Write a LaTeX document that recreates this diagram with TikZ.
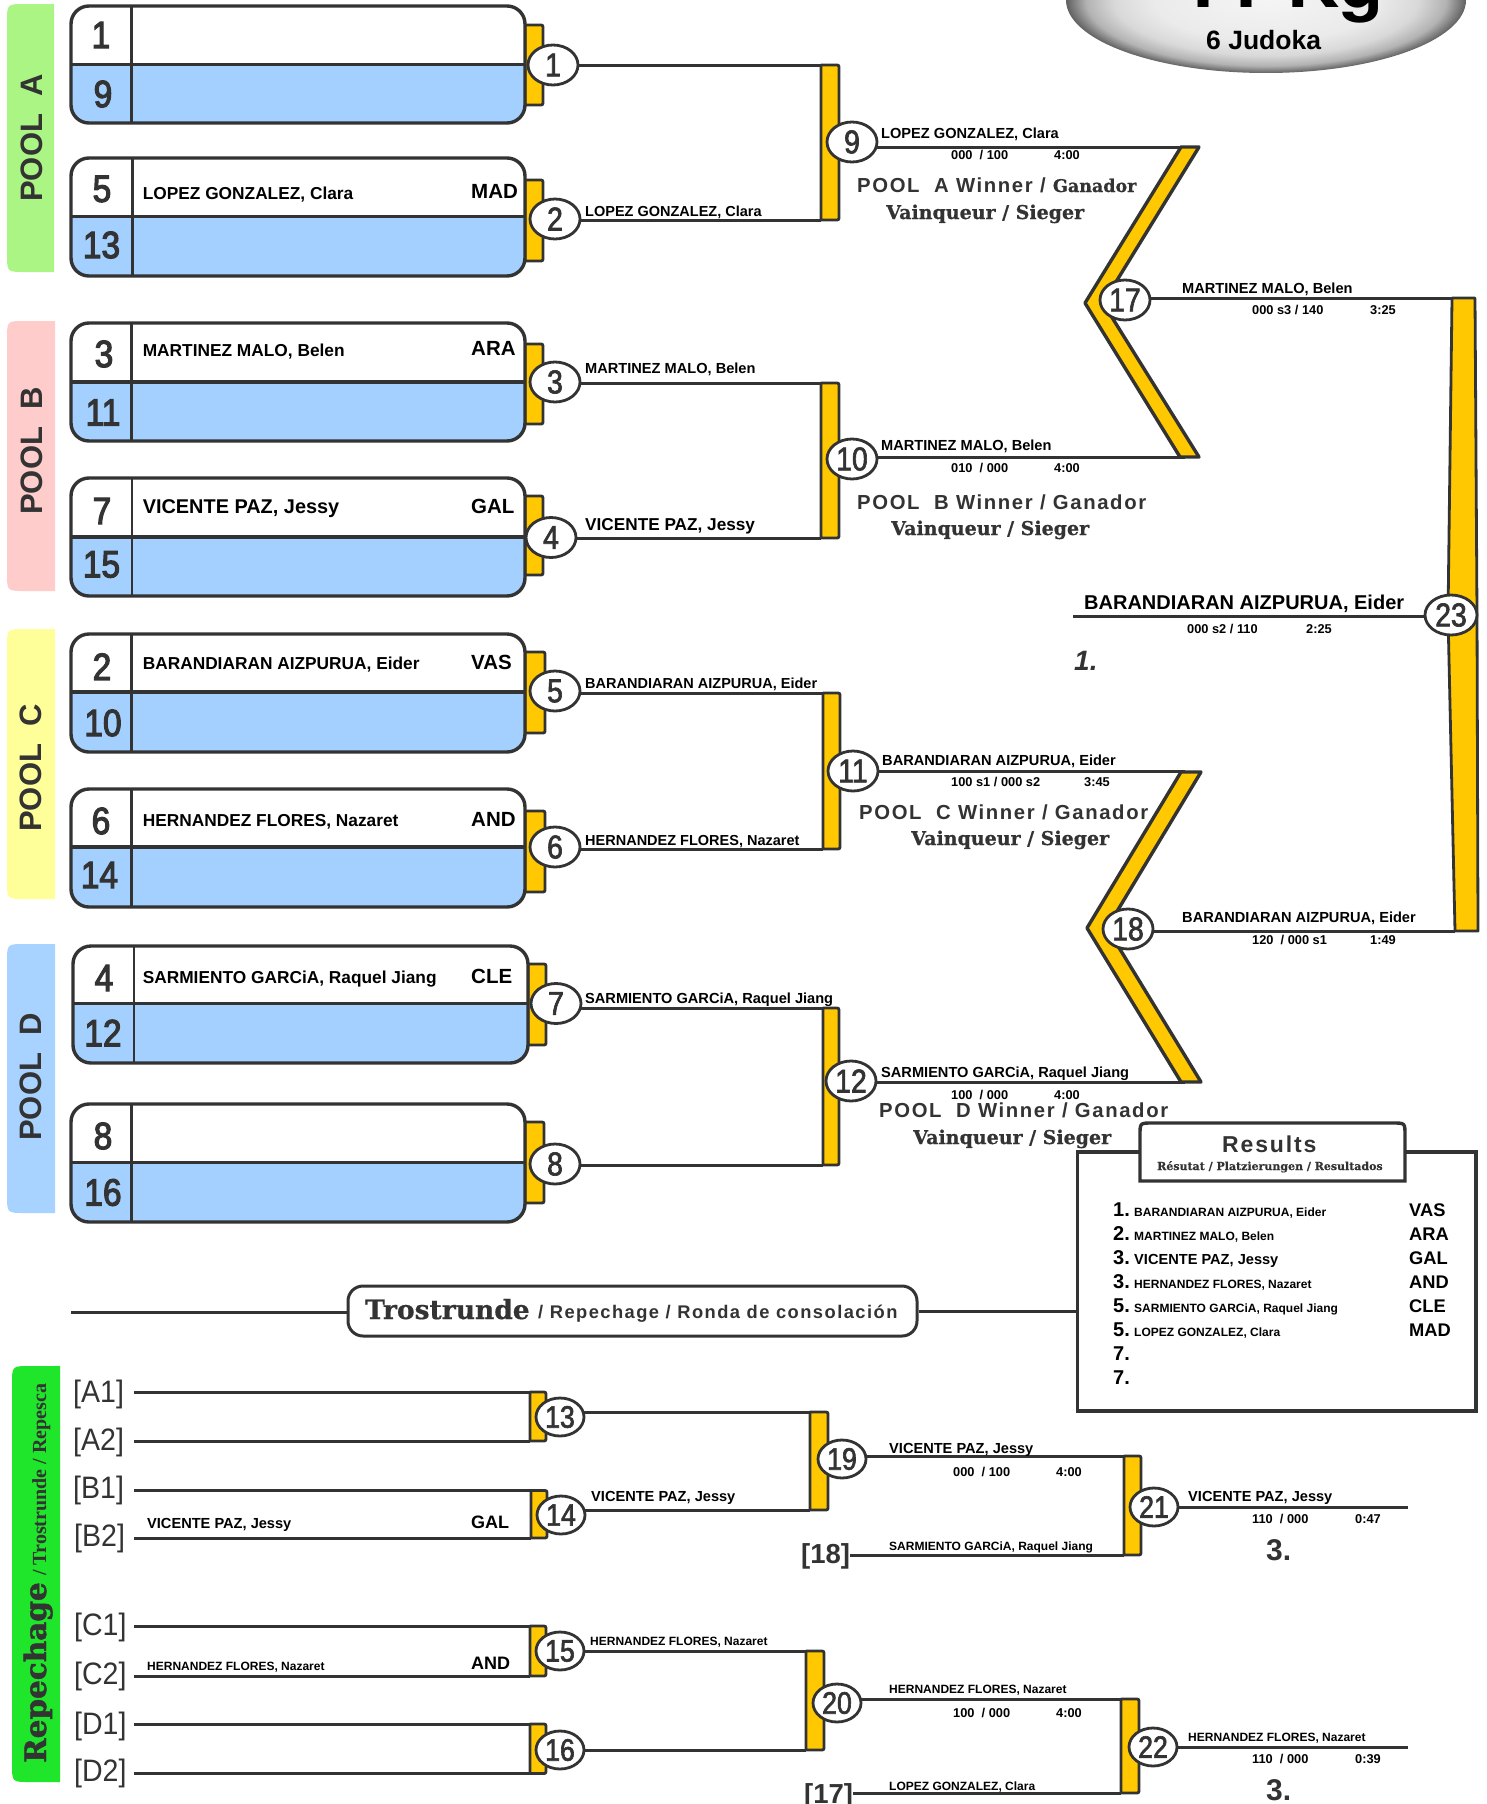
\documentclass[tikz,border=0pt]{standalone}
\usepackage{fontspec}
\setmainfont{Liberation Sans}
\newfontfamily\spsans[LetterSpace=8]{Liberation Sans}
\newfontfamily\fatserif[FakeBold=0.6]{DejaVu Serif}
\newfontfamily\fatterserif[FakeBold=1.6]{DejaVu Serif}
\newfontfamily\romserif{Liberation Serif}
\newfontfamily\titlefont{TeX Gyre Heros}
\newfontfamily\seedfont[FakeBold=3,FakeStretch=0.88]{Liberation Sans}
\newfontfamily\ovalfont[FakeBold=2,FakeStretch=0.86]{Liberation Sans}
\newfontfamily\tallfont[FakeStretch=0.92]{Liberation Sans}
\usetikzlibrary{shapes.geometric,backgrounds}
\definecolor{ink}{HTML}{333333}
\definecolor{gold}{HTML}{FFC800}
\definecolor{seedblue}{HTML}{A3D0FF}
\definecolor{pA}{HTML}{ABF584}
\definecolor{pB}{HTML}{FFCCCC}
\definecolor{pC}{HTML}{FFFF99}
\definecolor{pD}{HTML}{A8D2FF}
\definecolor{pR}{HTML}{1FE62A}
\pgfdeclareradialshading{ovalshade}{\pgfpoint{0bp}{0bp}}{color(0bp)=(white!96!black);color(14bp)=(white!92!black);color(19bp)=(white!85!black);color(22.5bp)=(white!70!black);color(25bp)=(white!38!black);color(50bp)=(white!38!black)}
\newcounter{tc}
\newcommand\tlab[5][]{\stepcounter{tc}\node[txt,#1] (t\arabic{tc}) at (#2,#3) {\fontsize{#4}{#4}\selectfont #5};}
\newcommand\mch[4][]{\node[mc,#1] (m#2) at (#3,#4) {#2};}
\newcommand\bkt[5]{%
  \pgfmathsetmacro\rA{#3-4}\pgfmathsetmacro\tA{#4+4}\pgfmathsetmacro\tB{#5-4}%
  \coordinate (#1t) at (#2,#4);\coordinate (#1b) at (#2,#5);%
  \filldraw[bk] (#2,#4) -- (\rA,#4) .. controls (#3,#4) .. (#3,\tA) -- (#3,\tB) .. controls (#3,#5) .. (\rA,#5) -- (#2,#5) -- cycle;}
\newcommand\plab[5]{%
  \pgfmathsetmacro\rA{#1+18}\pgfmathsetmacro\tA{#3+18}\pgfmathsetmacro\tB{#4-18}%
  \fill[#5] (#2,#3) -- (\rA,#3) .. controls (#1,#3) .. (#1,\tA) -- (#1,\tB) .. controls (#1,#4) .. (\rA,#4) -- (#2,#4) -- cycle;}
\newcommand\poolbox[6]{%
  \begin{scope}\clip (#1,#3) rectangle (#2,#5);\fill[white,rounded corners=18pt] (#1,#3) rectangle (#2,#5);\end{scope}
  \begin{scope}\clip (#1,#4) rectangle (#2,#5);\fill[seedblue,rounded corners=18pt] (#1,#3) rectangle (#2,#5);\end{scope}
  \draw[boxln] (#1,#4) -- (#2,#4);\draw[boxln,line width=2.6pt] (#6,#3) -- (#6,#5);
  \draw[boxln,rounded corners=18pt] (#1,#3) rectangle (#2,#5);}
\newcommand\seed[3]{\node[seednode] (s#1) at (#2,#3) {#1};}
\tikzset{
  txt/.style={anchor=base west,inner sep=0pt,text=black,font=\bfseries},
  mc/.style={ellipse,draw=ink,line width=2.8pt,fill=white,minimum width=50pt,minimum height=40pt,inner sep=0pt,text=ink,font=\ovalfont\fontsize{33}{33}\selectfont},
  rc/.style={mc,minimum width=48pt,minimum height=38pt,font=\ovalfont\fontsize{31}{31}\selectfont},
  bk/.style={draw=ink,fill=gold,line width=2.8pt,line join=round},
  ln/.style={draw=ink,line width=3pt},
  boxln/.style={draw=ink,line width=3.4pt},
  seednode/.style={inner sep=0pt,text=ink,font=\seedfont\fontsize{38}{38}\selectfont},
  poolt/.style={rotate=90,anchor=center,inner sep=0pt,text=ink,font=\bfseries\fontsize{31}{31}\selectfont},
  gr/.style={text=ink},
}
\begin{document}
\begin{tikzpicture}[x=1pt,y=-1pt]
\useasboundingbox (0,0) rectangle (1487,1804);
\begin{pgfonlayer}{background}
\fill[white] (0,0) rectangle (1487,1804);
\end{pgfonlayer}
% title oval
\begin{scope}
\clip (0,0) rectangle (1487,1804);
\shade[shading=ovalshade] (1266,0) ellipse [x radius=200pt,y radius=73pt];
\tlab{1179}{8}{78}{\titlefont 11 {\fontsize{72}{72}\selectfont Kg}}
\end{scope}
\tlab{1206}{49}{26.5}{6 Judoka}
% pool labels
\plab{7}{54}{4}{272}{pA}
\plab{7}{55}{321}{591}{pB}
\plab{7}{55}{629}{899}{pC}
\plab{7}{55}{944}{1213}{pD}
\node[poolt] (pa) at (31.5,138) {POOL\ \ A};
\node[poolt] (pb) at (31.5,451) {POOL\ \ B};
\node[poolt] (pc) at (31,768) {POOL\ \ C};
\node[poolt] (pd) at (31,1077) {POOL\ \ D};
% tabs
\bkt{a1}{525}{543}{25}{105}
\bkt{a2}{525}{543}{180}{261}
\bkt{a3}{525}{543}{344}{424}
\bkt{a4}{525}{543}{496}{575}
\bkt{a5}{525}{545}{652}{733}
\bkt{a6}{525}{545}{811}{892}
\bkt{a7}{528}{546}{964}{1045}
\bkt{a8}{525}{544}{1122}{1203}
% boxes
\poolbox{71}{525}{6}{64.3}{123}{131.5}
\poolbox{71}{525}{158}{216.6}{276}{132.5}
\poolbox{71}{525}{323}{382}{441}{131.5}
\poolbox{71}{525}{478}{537}{596}{132}
\poolbox{71}{525}{634}{692}{752}{131.5}
\poolbox{71}{525}{789}{847}{907}{131.5}
\poolbox{73}{528}{946}{1003.5}{1063}{134}
\poolbox{71}{525}{1104}{1162.5}{1222}{131.5}
\seed{1}{101}{35}\seed{9}{103}{94}
\seed{5}{102}{189}\seed{13}{101.5}{245}
\seed{3}{104}{354}\seed{11}{103}{412.5}
\seed{7}{102}{511}\seed{15}{101.5}{564.5}
\seed{2}{102}{666.7}\seed{10}{103}{723}
\seed{6}{101}{821}\seed{14}{99.5}{875}
\seed{4}{104}{978}\seed{12}{103}{1033}
\seed{8}{103}{1136}\seed{16}{103}{1192.5}
% names in boxes
\tlab{142.6}{199}{17.3}{LOPEZ GONZALEZ, Clara}
\tlab{471}{198}{20.5}{MAD}
\tlab{142.6}{356}{17.3}{MARTINEZ MALO, Belen}
\tlab{471}{355}{20.5}{ARA}
\tlab{142.6}{513}{19.9}{VICENTE PAZ, Jessy}
\tlab{471}{513}{20.5}{GAL}
\tlab{142.6}{669.4}{17.3}{BARANDIARAN AIZPURUA, Eider}
\tlab{471}{669}{20.5}{VAS}
\tlab{142.6}{826}{17.3}{HERNANDEZ FLORES, Nazaret}
\tlab{471}{826}{20.5}{AND}
\tlab{142.6}{983}{17.3}{SARMIENTO GARCiA, Raquel Jiang}
\tlab{471}{983}{20.5}{CLE}
% round 2 brackets
\bkt{b9}{821}{839}{65}{220}
\bkt{b10}{821}{839}{383}{538}
\bkt{b11}{823}{840}{693}{849}
\bkt{b12}{823}{839}{1008}{1165}
% V shapes
\filldraw[bk,line width=3.4pt] (1181,147) -- (1199,147) -- (1103,303) -- (1199,457) -- (1180,457) -- (1085,303) -- cycle;
\coordinate (v17t) at (1185,147);\coordinate (v17b) at (1185,457.5);
\filldraw[bk,line width=3.4pt] (1181,772) -- (1201,772) -- (1107,928) -- (1201,1082) -- (1181,1082) -- (1087,928) -- cycle;
\coordinate (v18t) at (1185,771);\coordinate (v18b) at (1185,1082);
% final bar
\filldraw[bk] (1452,298) -- (1475,298) -- (1477,615) -- (1478,931) -- (1455,931) -- (1448,615) -- cycle;
\coordinate (b23t) at (1452,298);\coordinate (b23b) at (1455,931);
\coordinate (f1) at (1073,616);
% match ovals
\mch{1}{553}{65}\mch{2}{555}{219}\mch{3}{555}{382}\mch{4}{551}{537.5}
\mch{5}{555}{691}\mch{6}{555}{847}\mch{7}{556}{1003.5}\mch{8}{555}{1164}
\mch{9}{852}{142}\mch{10}{852}{459}\mch{11}{853}{771}\mch{12}{851}{1081}
\mch{17}{1125}{300}\mch{18}{1128}{929}
\mch[minimum width=52pt]{23}{1451}{615}
% outgoing names
\tlab{585}{216}{14.5}{LOPEZ GONZALEZ, Clara}
\tlab{585}{373}{14.6}{MARTINEZ MALO, Belen}
\tlab{585}{530}{17.2}{VICENTE PAZ, Jessy}
\tlab{585}{688}{14.5}{BARANDIARAN AIZPURUA, Eider}
\tlab{585}{845}{14.5}{HERNANDEZ FLORES, Nazaret}
\tlab{585}{1003.5}{14.6}{SARMIENTO GARCiA, Raquel Jiang}
% round 3 texts
\tlab{881}{138}{14.6}{LOPEZ GONZALEZ, Clara}
\tlab{951}{159}{12.8}{000\ \ / 100}\tlab{1054}{159}{12.8}{4:00}
\tlab[gr]{857}{192}{20.3}{\spsans POOL\ \ A Winner / {\fatserif\fontsize{17.5}{17.5}\selectfont Ganador}}
\tlab[gr]{886}{219}{19}{\fatserif Vainqueur\ / Sieger}
\tlab{881}{450}{14.6}{MARTINEZ MALO, Belen}
\tlab{951}{472}{12.8}{010\ \ / 000}\tlab{1054}{472}{12.8}{4:00}
\tlab[gr]{857}{509}{20.3}{\spsans POOL\ \ B Winner / Ganador}
\tlab[gr]{891}{535}{19}{\fatserif Vainqueur\ / Sieger}
\tlab{882}{765}{14.6}{BARANDIARAN AIZPURUA, Eider}
\tlab{951}{786}{12.8}{100 s1 / 000 s2}\tlab{1084}{786}{12.8}{3:45}
\tlab[gr]{859}{819}{20.3}{\spsans POOL\ \ C Winner / Ganador}
\tlab[gr]{911}{845}{19}{\fatserif Vainqueur\ / Sieger}
\tlab{881}{1077}{14.6}{SARMIENTO GARCiA, Raquel Jiang}
\tlab{951}{1099}{12.8}{100\ \ / 000}\tlab{1054}{1099}{12.8}{4:00}
\tlab[gr]{879}{1117}{20.3}{\spsans POOL\ \ D Winner / Ganador}
\tlab[gr]{913}{1144}{19}{\fatserif Vainqueur\ / Sieger}
\tlab{1182}{293}{14.6}{MARTINEZ MALO, Belen}
\tlab{1252}{314}{12.8}{000 s3 / 140}\tlab{1370}{314}{12.8}{3:25}
\tlab{1182}{922}{14.6}{BARANDIARAN AIZPURUA, Eider}
\tlab{1252}{944}{12.8}{120\ \ / 000 s1}\tlab{1370}{944}{12.8}{1:49}
\tlab{1084}{609}{20}{BARANDIARAN AIZPURUA, Eider}
\tlab{1187}{633}{12.8}{000 s2 / 110}\tlab{1306}{633}{12.8}{2:25}
\tlab[gr]{1074}{670}{28}{\itshape 1.}
% Trostrunde band
\node[draw=ink,line width=3pt,fill=white,rounded corners=15pt,minimum width=569pt,minimum height=50pt,inner sep=0pt] (tro) at (632.5,1311) {};
\tlab[gr]{365}{1319}{26.5}{\fatserif Trostrunde}
\tlab[gr]{538}{1318}{18.3}{\spsans / Repechage / Ronda de consolación}
% Results
\node[draw=ink,line width=3.6pt,fill=white,minimum width=398.5pt,minimum height=259pt,inner sep=0pt] (res) at (1276.75,1281.5) {};
\filldraw[draw=ink,line width=3.4pt,fill=white] (1140,1181) -- (1140,1135) .. controls (1140,1123) .. (1152,1123) -- (1393,1123) .. controls (1405,1123) .. (1405,1135) -- (1405,1181) -- cycle;
\tlab[gr]{1222}{1152}{23}{\spsans Results}
\tlab[gr]{1157}{1170}{11}{\fatserif Résutat / Platzierungen / Resultados}
\tlab{1113}{1216}{20}{1.}\tlab{1134}{1216}{12}{BARANDIARAN AIZPURUA, Eider}\tlab{1409}{1216}{18.3}{VAS}
\tlab{1113}{1240}{20}{2.}\tlab{1134}{1240}{12}{MARTINEZ MALO, Belen}\tlab{1409}{1240}{18.3}{ARA}
\tlab{1113}{1264}{20}{3.}\tlab{1134}{1264}{14.6}{VICENTE PAZ, Jessy}\tlab{1409}{1264}{18.3}{GAL}
\tlab{1113}{1288}{20}{3.}\tlab{1134}{1288}{12}{HERNANDEZ FLORES, Nazaret}\tlab{1409}{1288}{18.3}{AND}
\tlab{1113}{1312}{20}{5.}\tlab{1134}{1312}{12}{SARMIENTO GARCiA, Raquel Jiang}\tlab{1409}{1312}{18.3}{CLE}
\tlab{1113}{1336}{20}{5.}\tlab{1134}{1336}{12}{LOPEZ GONZALEZ, Clara}\tlab{1409}{1336}{18.3}{MAD}
\tlab{1113}{1360}{20}{7.}
\tlab{1113}{1384}{20}{7.}
% Repechage
\plab{12}{60}{1366}{1782}{pR}
\node[txt,rotate=90,text=ink] (rp) at (46,1763) {\fatterserif\bfseries\fontsize{29.5}{29.5}\selectfont Repechage};
\node[txt,rotate=90,text=ink] (rq) at (46,1576) {\romserif\bfseries\fontsize{20}{20}\selectfont / Trostrunde / Repesca};
\foreach \nm/\lx/\ly in {A1/73/1402,A2/73/1450,B1/73/1498,B2/74/1546,C1/74/1635,C2/74/1684,D1/74/1734,D2/74/1781}{
  \node[txt,text=ink,font=\tallfont\fontsize{31}{31}\selectfont] (\nm) at (\lx,\ly) {[\nm]};
}
\bkt{r13}{530}{546}{1392}{1441}
\bkt{r14}{531}{547}{1490.5}{1538}
\bkt{r15}{530}{546}{1626}{1676}
\bkt{r16}{530}{546}{1724}{1773.5}
\mch[rc]{13}{560}{1417}\mch[rc]{14}{561}{1515}\mch[rc]{15}{560}{1651}\mch[rc]{16}{560}{1750}
\bkt{b19}{810}{828}{1412}{1510}
\bkt{b20}{806}{824}{1651}{1750}
\bkt{b21}{1124}{1141}{1456}{1555}
\bkt{b22}{1121}{1139}{1699}{1793}
\mch[rc]{19}{842}{1459}\mch[rc]{20}{837}{1703}\mch[rc]{21}{1154}{1507}\mch[rc]{22}{1153}{1747}
\coordinate (e21) at (1408,1507);\coordinate (e22) at (1408,1747);
\tlab{147}{1528}{14.6}{VICENTE PAZ, Jessy}\tlab{471}{1528}{18}{GAL}
\tlab{147}{1670}{12}{HERNANDEZ FLORES, Nazaret}\tlab{471}{1669}{18}{AND}
\tlab{591}{1501}{14.6}{VICENTE PAZ, Jessy}
\tlab{590}{1645}{12}{HERNANDEZ FLORES, Nazaret}
\tlab{889}{1453}{14.6}{VICENTE PAZ, Jessy}
\tlab{953}{1476}{12.8}{000\ \ / 100}\tlab{1056}{1476}{12.8}{4:00}
\tlab{889}{1550}{12}{SARMIENTO GARCiA, Raquel Jiang}
\tlab{889}{1693}{12}{HERNANDEZ FLORES, Nazaret}
\tlab{953}{1717}{12.8}{100\ \ / 000}\tlab{1056}{1717}{12.8}{4:00}
\tlab{889}{1790}{12}{LOPEZ GONZALEZ, Clara}
\tlab{1188}{1501}{14.6}{VICENTE PAZ, Jessy}
\tlab{1252}{1523}{12.8}{110\ \ / 000}\tlab{1355}{1523}{12.8}{0:47}
\tlab[gr]{1266}{1560}{30}{3.}
\tlab{1188}{1741}{12}{HERNANDEZ FLORES, Nazaret}
\tlab{1252}{1763}{12.8}{110\ \ / 000}\tlab{1355}{1763}{12.8}{0:39}
\tlab[gr]{1266}{1800}{30}{3.}
\node[txt,text=ink,font=\bfseries\fontsize{27.5}{27.5}\selectfont] (x18) at (801,1563) {[18]};
\node[txt,text=ink,font=\bfseries\fontsize{27.5}{27.5}\selectfont] (x17) at (804,1803) {[17]};
% connector starts
\coordinate (l0) at (71,1312);
\coordinate (ra1) at (134,1392);\coordinate (ra2) at (134,1441);
\coordinate (rb1) at (134,1490.5);\coordinate (rb2) at (134,1538);
\coordinate (rc1) at (134,1626);\coordinate (rc2) at (134,1676);
\coordinate (rd1) at (134,1724);\coordinate (rd2) at (134,1773.5);
\begin{pgfonlayer}{background}
\draw[ln] (m1 |- b9t) -- (b9t);
\draw[ln] (m2 |- b9b) -- (b9b);
\draw[ln] (m3 |- b10t) -- (b10t);
\draw[ln] (m4 |- b10b) -- (b10b);
\draw[ln] (m5 |- b11t) -- (b11t);
\draw[ln] (m6 |- b11b) -- (b11b);
\draw[ln] (m7 |- b12t) -- (b12t);
\draw[ln] (m8 |- b12b) -- (b12b);
\draw[ln] (m9 |- v17t) -- (v17t);
\draw[ln] (m10 |- v17b) -- (v17b);
\draw[ln] (m11 |- v18t) -- (v18t);
\draw[ln] (m12 |- v18b) -- (v18b);
\draw[ln] (m17 |- b23t) -- (b23t);
\draw[ln] (m18 |- b23b) -- (b23b);
\draw[ln] (m23 |- f1) -- (f1);
\draw[ln] (l0) -- (tro.west |- l0);
\draw[ln] (tro.east) -- (res.west |- tro.east);
\draw[ln] (ra1) -- (r13t);\draw[ln] (ra2) -- (r13b);
\draw[ln] (rb1) -- (r14t);\draw[ln] (rb2) -- (r14b);
\draw[ln] (rc1) -- (r15t);\draw[ln] (rc2) -- (r15b);
\draw[ln] (rd1) -- (r16t);\draw[ln] (rd2) -- (r16b);
\draw[ln] (m13 |- b19t) -- (b19t);
\draw[ln] (m14 |- b19b) -- (b19b);
\draw[ln] (m15 |- b20t) -- (b20t);
\draw[ln] (m16 |- b20b) -- (b20b);
\draw[ln] (m19 |- b21t) -- (b21t);
\draw[ln] (m20 |- b22t) -- (b22t);
\draw[ln] (m21) -- (e21);
\draw[ln] (m22) -- (e22);
\draw[ln] (x18.east |- b21b) -- (b21b);
\draw[ln] (x17.east |- b22b) -- (b22b);
\end{pgfonlayer}
\end{tikzpicture}
\end{document}
